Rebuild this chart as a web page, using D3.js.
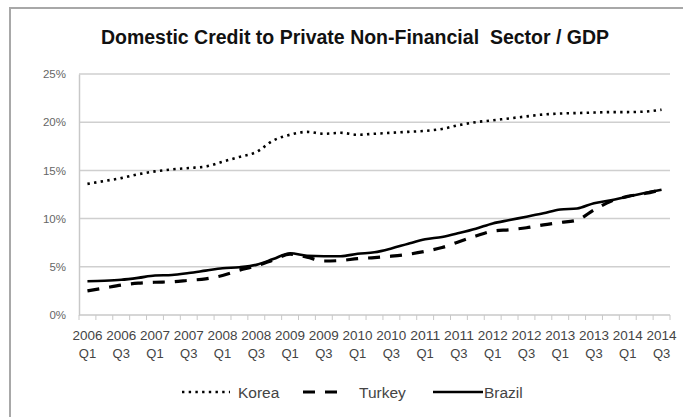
<!DOCTYPE html>
<html><head><meta charset="utf-8">
<script src="https://cdn.jsdelivr.net/npm/d3@7"></script>
<style>body{margin:0;background:#fff;} svg{display:block;}</style>
</head><body>
<svg id="c" width="683" height="417"></svg>
<script>
const quarters = ["2006 Q1","2006 Q2","2006 Q3","2006 Q4","2007 Q1","2007 Q2","2007 Q3","2007 Q4",
"2008 Q1","2008 Q2","2008 Q3","2008 Q4","2009 Q1","2009 Q2","2009 Q3","2009 Q4",
"2010 Q1","2010 Q2","2010 Q3","2010 Q4","2011 Q1","2011 Q2","2011 Q3","2011 Q4",
"2012 Q1","2012 Q2","2012 Q3","2012 Q4","2013 Q1","2013 Q2","2013 Q3","2013 Q4",
"2014 Q1","2014 Q2","2014 Q3"];
const korea = [13.6,13.9,14.2,14.6,14.9,15.1,15.25,15.4,15.9,16.4,16.9,18.1,18.7,19.0,18.8,18.9,18.7,18.8,
18.9,19.0,19.1,19.3,19.7,20.0,20.2,20.4,20.6,20.8,20.9,20.95,21.0,21.05,21.05,21.1,21.3];
const turkey = [2.5,2.8,3.1,3.3,3.4,3.45,3.6,3.75,4.1,4.65,5.1,5.7,6.3,6.0,5.6,5.65,5.85,5.95,
6.1,6.3,6.6,7.0,7.6,8.2,8.7,8.85,9.05,9.35,9.6,9.85,10.9,11.8,12.3,12.6,13.0];
const brazil = [3.5,3.55,3.65,3.85,4.1,4.15,4.35,4.6,4.85,4.95,5.2,5.8,6.4,6.15,6.1,6.1,6.35,6.5,
6.9,7.4,7.85,8.1,8.5,8.95,9.5,9.85,10.2,10.55,10.95,11.05,11.6,11.9,12.3,12.65,13.0];
const yTicks = [0,5,10,15,20,25];
const seriesNames = ["Korea","Turkey","Brazil"];
const title = "Domestic Credit to Private Non-Financial  Sector / GDP";

const svg = d3.select("#c");
const font = "'Liberation Sans', Arial, sans-serif";

// frame (left/top border)
svg.append("path").attr("d","M10,417 V8 H683").attr("fill","none").attr("stroke","#a8a8a8").attr("stroke-width",2);

svg.append("text").attr("x",355).attr("y",44).attr("text-anchor","middle")
  .style("white-space","pre").attr("xml:space","preserve")
  .attr("font-family",font).attr("font-weight","bold").attr("font-size",19.5).attr("fill","#111")
  .text(title);

const x = d3.scaleBand().domain(quarters).range([79,670]).padding(0);
const y = d3.scaleLinear().domain([0,25]).range([315,74]);

// gridlines
svg.append("g").selectAll("line").data(yTicks.filter(d=>d>0)).join("line")
  .attr("x1",79).attr("x2",670).attr("y1",d=>y(d)).attr("y2",d=>y(d))
  .attr("stroke","#cfcfcf").attr("stroke-width",1.5);

// y axis
const yAxis = d3.axisLeft(y).tickValues(yTicks).tickSize(0).tickPadding(13).tickFormat(d=>d+"%");
const gy = svg.append("g").attr("transform","translate(79,0)").call(yAxis);
gy.select(".domain").attr("stroke","#c8c8c8").attr("stroke-width",1.5);
gy.selectAll("text").attr("font-family",font).attr("font-size",11.5).attr("fill","#666");

// x axis line + ticks
svg.append("line").attr("x1",79).attr("x2",670).attr("y1",315).attr("y2",315).attr("stroke","#c8c8c8").attr("stroke-width",1.5);
const bounds = quarters.map(q=>x(q)).concat([x.range()[1]]);
svg.append("g").selectAll("line").data(bounds).join("line")
  .attr("x1",d=>d).attr("x2",d=>d).attr("y1",315).attr("y2",320)
  .attr("stroke","#c8c8c8").attr("stroke-width",1);
const lab = svg.append("g").selectAll("text").data(quarters.filter((q,i)=>i%2===0)).join("text")
  .attr("x",q=>x(q)+x.bandwidth()/2).attr("text-anchor","middle")
  .attr("font-family",font).attr("font-size",13).attr("fill","#444");
lab.append("tspan").attr("x",q=>x(q)+x.bandwidth()/2).attr("y",340).attr("textLength",30).attr("lengthAdjust","spacingAndGlyphs").text(q=>q.split(" ")[0]);
lab.append("tspan").attr("x",q=>x(q)+x.bandwidth()/2).attr("y",358).text(q=>q.split(" ")[1]);

const line = d3.line().x((d,i)=>x(quarters[i])+x.bandwidth()/2).y(d=>y(d)).curve(d3.curveMonotoneX);
const styles = {
  Korea:{dash:"2.4,4.3", w:2.6},
  Turkey:{dash:"12,10", w:3.2},
  Brazil:{dash:null, w:2.6}
};
const dataMap = {Korea:korea, Turkey:turkey, Brazil:brazil};
seriesNames.forEach(n=>{
  svg.append("path").datum(dataMap[n]).attr("d",line).attr("fill","none")
    .attr("stroke","#000").attr("stroke-width",styles[n].w)
    .attr("stroke-dasharray",styles[n].dash).attr("stroke-linejoin","round");
});

// legend
const leg = [{n:"Korea",x1:182,x2:230,tx:238},{n:"Turkey",x1:303,x2:346,tx:359},{n:"Brazil",x1:433,x2:483,tx:484}];
leg.forEach(l=>{
  svg.append("line").attr("x1",l.x1).attr("x2",l.x2).attr("y1",392).attr("y2",392)
    .attr("stroke","#000").attr("stroke-width",styles[l.n].w).attr("stroke-dasharray",styles[l.n].dash);
  svg.append("text").attr("x",l.tx).attr("y",397.5).attr("font-family",font).attr("font-size",15.5)
    .attr("fill","#444").text(l.n);
});
</script>
</body></html>
